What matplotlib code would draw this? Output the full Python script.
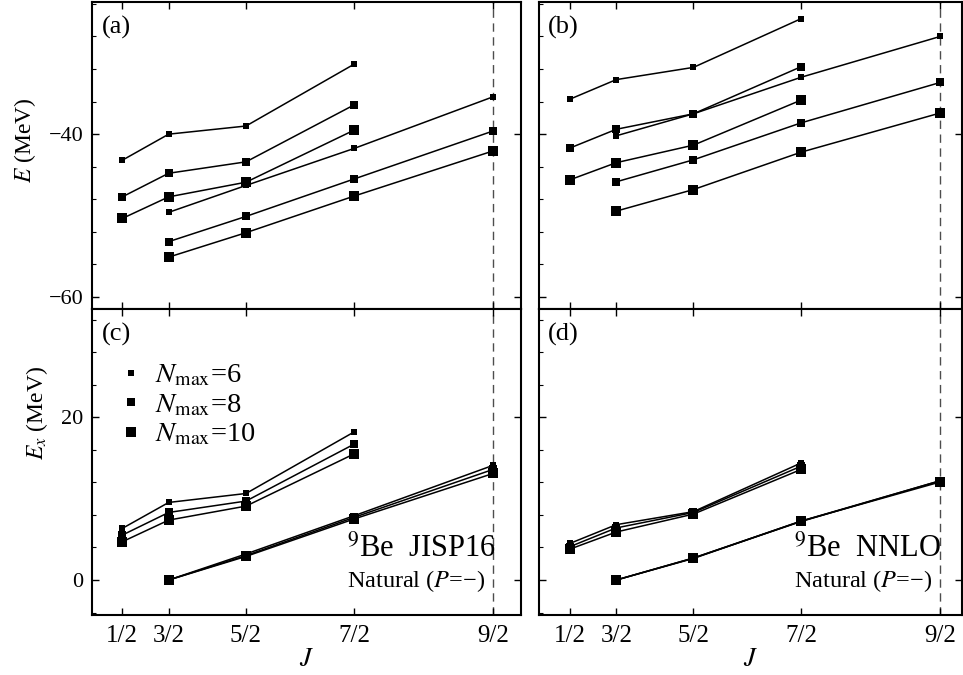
import matplotlib
matplotlib.use('Agg')
import matplotlib.pyplot as plt
from matplotlib.lines import Line2D
from matplotlib.ticker import MultipleLocator

plt.rcParams['font.family'] = ['Liberation Serif', 'DejaVu Serif']
plt.rcParams['mathtext.fontset'] = 'stix'

# angular momentum J and its labels
J_vals = [0.5, 1.5, 2.5, 3.5, 4.5]
J_labels = ['1/2', '3/2', '5/2', '7/2', '9/2']
nmax_list = [6, 8, 10]

# band starting at 1/2 (J = 1/2..7/2) and ground band (J = 3/2..9/2); rows: Nmax = 6, 8, 10
jisp_E_band1 = [[-43.2, -40.0, -39.0, -31.4],
                [-47.7, -44.8, -43.4, -36.4],
                [-50.35, -47.7, -45.9, -39.5]]
jisp_E_band2 = [[-49.6, -46.3, -41.75, -35.4],
                [-53.2, -50.1, -45.5, -39.6],
                [-55.1, -52.1, -47.6, -42.05]]
nnlo_E_band1 = [[-35.7, -33.3, -31.8, -25.8],
                [-41.7, -39.4, -37.5, -31.7],
                [-45.6, -43.5, -41.35, -35.8]]
nnlo_E_band2 = [[-40.2, -37.5, -33.0, -28.0],
                [-45.85, -43.15, -38.6, -33.65],
                [-49.45, -46.8, -42.2, -37.4]]

jisp_Ex_band1 = [[6.34, 9.53, 10.63, 18.2],
                 [5.52, 8.3, 9.7, 16.7],
                 [4.7, 7.36, 9.08, 15.5]]
jisp_Ex_band2 = [[0.0, 3.2, 7.9, 14.1],
                 [0.0, 3.0, 7.7, 13.6],
                 [0.0, 2.9, 7.5, 13.1]]
nnlo_Ex_band1 = [[4.5, 6.8, 8.4, 14.4],
                 [4.1, 6.4, 8.3, 14.0],
                 [3.8, 5.9, 8.1, 13.6]]
nnlo_Ex_band2 = [[0.0, 2.7, 7.2, 12.2],
                 [0.0, 2.7, 7.25, 12.2],
                 [0.0, 2.65, 7.25, 12.05]]

marker_sizes = [4.2, 5.4, 7.4]


def jx(j):
    # horizontal axis is J(J+1)
    return j * (j + 1)


x_ticks = [jx(j) for j in J_vals]
x_band1 = [jx(j) for j in J_vals[:4]]
x_band2 = [jx(j) for j in J_vals[1:]]

W, H = 963, 675
fig = plt.figure(figsize=(W / 100, H / 100), dpi=100)


def make_ax(left, right, top, bottom):
    return fig.add_axes([left / W, 1 - bottom / H, (right - left) / W, (bottom - top) / H])


ax_a = make_ax(92, 521, 2, 309)
ax_b = make_ax(539, 962, 2, 309)
ax_c = make_ax(92, 521, 309, 615)
ax_d = make_ax(539, 962, 309, 615)


def draw_panel(ax, band1, band2):
    for i in range(len(nmax_list)):
        ax.plot(x_band1, band1[i], '-s', color='k', lw=1.1, ms=marker_sizes[i], mew=0)
        ax.plot(x_band2, band2[i], '-s', color='k', lw=1.1, ms=marker_sizes[i], mew=0)
    ax.axvline(jx(4.5), color='0.3', lw=1.0, ls=(0, (6, 4)), zorder=0)


draw_panel(ax_a, jisp_E_band1, jisp_E_band2)
draw_panel(ax_b, nnlo_E_band1, nnlo_E_band2)
draw_panel(ax_c, jisp_Ex_band1, jisp_Ex_band2)
draw_panel(ax_d, nnlo_Ex_band1, nnlo_Ex_band2)

for ax in [ax_a, ax_c]:
    ax.set_xlim(-1.21, 26.54)
for ax in [ax_b, ax_d]:
    ax.set_xlim(-1.26, 26.16)
for ax in [ax_a, ax_b]:
    ax.set_ylim(-61.47, -23.77)
    ax.set_yticks([-60, -40])
for ax in [ax_c, ax_d]:
    ax.set_ylim(-4.3, 33.3)
    ax.set_yticks([0, 20])

for ax in [ax_a, ax_b, ax_c, ax_d]:
    ax.set_xticks(x_ticks)
    ax.yaxis.set_minor_locator(MultipleLocator(4))
    ax.tick_params(which='major', direction='in', length=5, width=1, top=True, right=True,
                   labelsize=16, pad=6)
    ax.tick_params(axis='x', labelsize=18, pad=7)
    ax.tick_params(which='minor', direction='in', length=3, width=0.8, left=True, right=False)
    for sp in ax.spines.values():
        sp.set_linewidth(1.5)

ax_a.set_xticklabels([])
ax_b.set_xticklabels([])
ax_b.set_yticklabels([])
ax_d.set_yticklabels([])
ax_c.set_xticklabels(J_labels)
ax_d.set_xticklabels(J_labels)
ax_a.set_yticklabels(['\u221260', '\u221240'])

ax_a.set_ylabel('$E$ (MeV)', fontsize=17, labelpad=8)
ax_c.set_ylabel('$E_x$ (MeV)', fontsize=17, labelpad=8)
ax_a.yaxis.label.set_y(0.55)
ax_c.yaxis.label.set_y(0.66)
ax_c.set_xlabel('$J$', fontsize=19, labelpad=2)
ax_d.set_xlabel('$J$', fontsize=19, labelpad=2)

for ax, lab in zip([ax_a, ax_b, ax_c, ax_d], ['(a)', '(b)', '(c)', '(d)']):
    ax.text(0.022, 0.955, lab, transform=ax.transAxes, fontsize=19, va='top', ha='left')

ax_c.text(15.28, 2.83, '$^9$Be  JISP16', fontsize=22, ha='left', va='baseline')
ax_c.text(15.28, -0.86, 'Natural ($P$=\u2212)', fontsize=17.5, ha='left', va='baseline')
ax_d.text(15.27, 2.83, '$^9$Be  NNLO', fontsize=22, ha='left', va='baseline')
ax_d.text(15.27, -0.86, 'Natural ($P$=\u2212)', fontsize=17.5, ha='left', va='baseline')

handles = [Line2D([], [], ls='none', marker='s', color='k', ms=ms, mew=0) for ms in marker_sizes]
labels = ['$N_{\\mathrm{max}}$=%d' % n for n in nmax_list]
ax_c.legend(handles, labels, loc='upper left', bbox_to_anchor=(0.06, 0.825), frameon=False,
            fontsize=20.5, handlelength=0.9, handletextpad=0.4, labelspacing=0.13,
            borderpad=0, borderaxespad=0)

fig.savefig('out.png', dpi=100)
